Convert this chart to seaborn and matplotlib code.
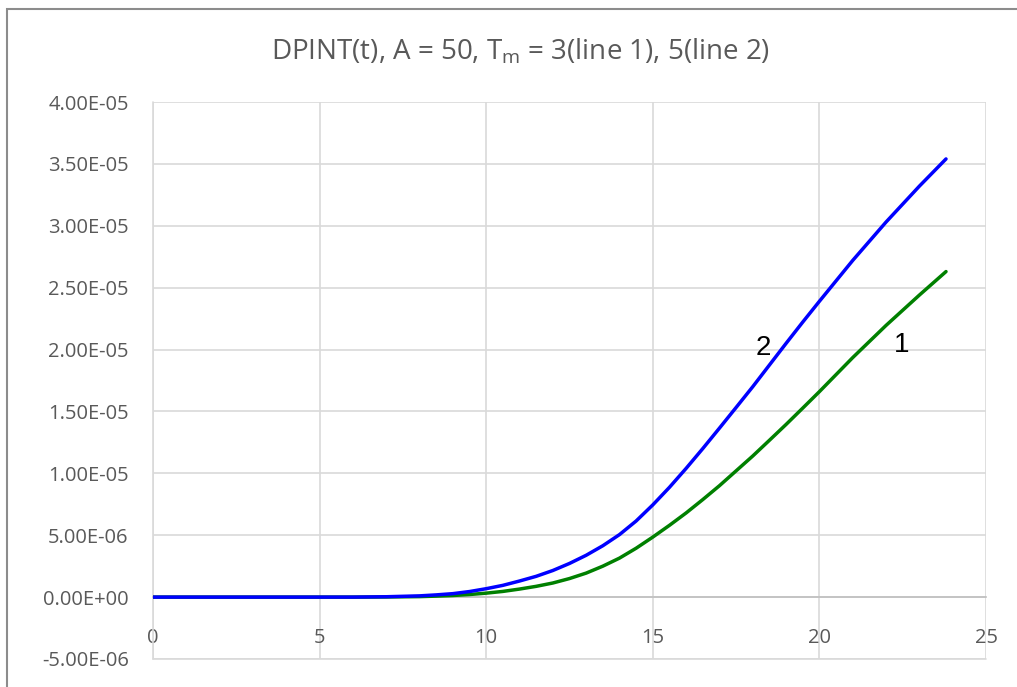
import matplotlib
matplotlib.use("Agg")
import matplotlib.pyplot as plt
from matplotlib.patches import Rectangle
from matplotlib.ticker import FuncFormatter, MultipleLocator
import pandas as pd
import seaborn as sns

# time axis and the two DPINT(t) curves (values in units of 1e-6)
t = [0, 1, 2, 3, 4, 5, 6, 7, 8, 8.5, 9, 9.5, 10, 10.5, 11, 11.5, 12, 12.5,
     13, 13.5, 14, 14.5, 15, 15.5, 16, 16.5, 17, 17.5, 18, 18.5, 19, 19.5,
     20, 21, 22, 23, 23.8]
line1_e6 = [0, 0, 0, 0, 0, 0, 0, 0.01, 0.04, 0.08, 0.13, 0.21, 0.32, 0.46,
            0.65, 0.87, 1.14, 1.5, 1.94, 2.5, 3.15, 3.95, 4.85, 5.8, 6.8,
            7.88, 9.0, 10.2, 11.4, 12.67, 13.95, 15.27, 16.6, 19.35, 21.95,
            24.4, 26.3]
line2_e6 = [0, 0, 0, 0, 0, 0, 0, 0.03, 0.1, 0.18, 0.28, 0.45, 0.68, 0.95,
            1.3, 1.68, 2.15, 2.72, 3.38, 4.15, 5.05, 6.15, 7.45, 8.87, 10.4,
            12.0, 13.65, 15.32, 17.0, 18.75, 20.5, 22.22, 23.9, 27.2, 30.3,
            33.2, 35.4]

x_ticks = [0, 5, 10, 15, 20, 25]
y_min, y_max, y_step = -5e-6, 4e-5, 5e-6
title = "DPINT(t), A = 50, T$_{m}$ = 3(line 1), 5(line 2)"

df = pd.DataFrame({
    "t": t * 2,
    "value": [v * 1e-6 for v in line1_e6] + [v * 1e-6 for v in line2_e6],
    "line": ["1"] * len(t) + ["2"] * len(t),
})

sns.set_theme(style="white")
plt.rcParams["font.family"] = ["Open Sans", "DejaVu Sans"]
plt.rcParams["mathtext.default"] = "regular"

fig = plt.figure(figsize=(10.17, 6.87), dpi=100)
ax = fig.add_axes([153 / 1017, 1 - 659 / 687, (986 - 153) / 1017, (659 - 102) / 687])

grid_col = "#d9d9d9"
text_col = "#595959"

sns.lineplot(data=df, x="t", y="value", hue="line",
             palette={"1": "#008000", "2": "#0000ff"},
             linewidth=2.5, legend=False, ax=ax, zorder=3)

ax.set_xlim(0, 25)
ax.set_ylim(y_min, y_max)
ax.set_xticks(x_ticks)
ax.yaxis.set_major_locator(MultipleLocator(y_step))
ax.yaxis.set_major_formatter(FuncFormatter(lambda v, p: f"{v:.2E}"))
ax.grid(True, color=grid_col, linewidth=1.2)
ax.set_axisbelow(True)
ax.set_xlabel("")
ax.set_ylabel("")

for side in ["top", "right", "left"]:
    ax.spines[side].set_visible(False)
ax.spines["bottom"].set_position(("data", 0))
ax.spines["bottom"].set_color("#bfbfbf")
ax.spines["bottom"].set_linewidth(1.2)

ax.tick_params(axis="both", length=0, labelsize=14.5, labelcolor=text_col)
ax.tick_params(axis="y", pad=17.5)
ax.tick_params(axis="x", pad=22)

# frame the bottom and left edges of the plot area as gridlines
ax.axhline(y_min, color=grid_col, linewidth=1.2, clip_on=False, zorder=1)
ax.axvline(0, color=grid_col, linewidth=1.2, clip_on=False, zorder=1)

ax.text(18.31, 1.96e-5, "2", fontsize=20, family="Liberation Sans",
        color="black", ha="center", va="baseline")
ax.text(22.48, 1.98e-5, "1", fontsize=20, family="Liberation Sans",
        color="black", ha="center", va="baseline")

fig.text(521 / 1017, 1 - 52 / 687, title, fontsize=20, color=text_col,
         ha="center", va="center")

# chart-area border
fig.add_artist(Rectangle((7 / 1017, -0.1), 1.2, 1 - 9 / 687 + 0.1,
                         transform=fig.transFigure, fill=False,
                         edgecolor="#8c8c8c", linewidth=1.5))

fig.savefig("out.png", dpi=100)
